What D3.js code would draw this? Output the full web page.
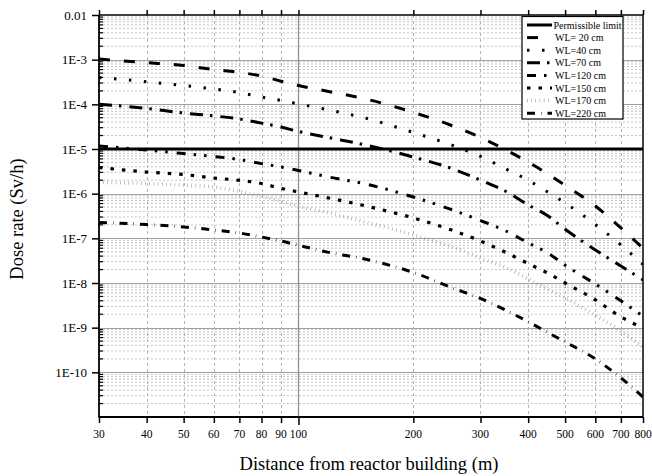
<!DOCTYPE html>
<html>
<head>
<meta charset="utf-8">
<script src="https://cdn.jsdelivr.net/npm/d3@7"></script>
<style>
  html, body { margin: 0; padding: 0; background: #fff; }
  svg { display: block; }
  text { font-family: "Liberation Serif", "Times New Roman", serif; fill: #000; }
</style>
</head>
<body>
<svg id="chart" width="652" height="476"></svg>
<script>
// ---------------- data ----------------
const distances = [30, 40, 50, 60, 70, 80, 90, 100, 120, 150, 200, 250, 300, 350, 400, 450, 500, 600, 700, 800];
const wl20  = [1.03e-3, 8.6e-4, 7.4e-4, 6.0e-4, 5.2e-4, 4.3e-4, 3.3e-4, 2.64e-4, 1.94e-4, 1.32e-4, 6.6e-5, 3.45e-5, 1.81e-5, 9.5e-6, 5.1e-6, 2.77e-6, 1.53e-6, 5.3e-7, 1.71e-7, 6.0e-8];
const wl40  = [4.0e-4, 3.2e-4, 2.64e-4, 2.2e-4, 1.84e-4, 1.46e-4, 1.22e-4, 1.02e-4, 7.5e-5, 4.9e-5, 2.34e-5, 1.26e-5, 6.8e-6, 3.56e-6, 2.0e-6, 1.09e-6, 6.2e-7, 2.04e-7, 7.1e-8, 2.6e-8];
const wl70  = [1.0e-4, 8.1e-5, 6.4e-5, 5.5e-5, 4.7e-5, 3.8e-5, 3.1e-5, 2.47e-5, 1.8e-5, 1.23e-5, 6.6e-6, 3.76e-6, 2.0e-6, 1.12e-6, 5.6e-7, 3.2e-7, 1.6e-7, 5.5e-8, 2.4e-8, 1.17e-8];
const wl120 = [1.17e-5, 9.5e-6, 7.9e-6, 6.8e-6, 5.8e-6, 4.7e-6, 3.96e-6, 3.3e-6, 2.36e-6, 1.65e-6, 8.4e-7, 4.5e-7, 2.5e-7, 1.46e-7, 7.9e-8, 4.7e-8, 2.5e-8, 9.5e-9, 4.0e-9, 1.8e-9];
const wl150 = [3.86e-6, 3.05e-6, 2.69e-6, 2.24e-6, 1.99e-6, 1.69e-6, 1.31e-6, 1.09e-6, 8.0e-7, 5.3e-7, 2.86e-7, 1.57e-7, 8.7e-8, 4.8e-8, 2.72e-8, 1.66e-8, 1.0e-8, 4.2e-9, 1.74e-9, 9.8e-10];
const wl170 = [1.78e-6, 1.69e-6, 1.56e-6, 1.41e-6, 1.12e-6, 8.9e-7, 6.7e-7, 5.2e-7, 3.7e-7, 2.3e-7, 1.19e-7, 6.7e-8, 3.6e-8, 2.2e-8, 1.23e-8, 7.3e-9, 4.6e-9, 1.9e-9, 8.4e-10, 3.7e-10];
const wl220 = [2.26e-7, 2.04e-7, 1.8e-7, 1.54e-7, 1.32e-7, 1.07e-7, 8.7e-8, 7.0e-8, 4.85e-8, 3.4e-8, 1.72e-8, 8.1e-9, 4.5e-9, 2.44e-9, 1.36e-9, 7.8e-10, 4.8e-10, 2.0e-10, 7.5e-11, 2.8e-11];
const permissibleLimit = 1e-5;

const seriesNames = ["WL= 20 cm", "WL=40 cm", "WL=70 cm", "WL=120 cm", "WL=150 cm", "WL=170 cm", "WL=220 cm"];
const seriesValues = [wl20, wl40, wl70, wl120, wl150, wl170, wl220];
const limitName = "Permissible limit";

const xTickValues = [30, 40, 50, 60, 70, 80, 90, 100, 200, 300, 400, 500, 600, 700, 800];
const yTickValues = [1e-2, 1e-3, 1e-4, 1e-5, 1e-6, 1e-7, 1e-8, 1e-9, 1e-10];
const yTickLabels = ["0.01", "1E-3", "1E-4", "1E-5", "1E-6", "1E-7", "1E-8", "1E-9", "1E-10"];
const xTitle = "Distance from reactor building (m)";
const yTitle = "Dose rate (Sv/h)";

// ---------------- styles ----------------
const styles = [
  { w: 3,   dash: "11,14",               color: "#000" },
  { w: 3,   dash: "2.5,12.5",            color: "#000" },
  { w: 3,   dash: "13,7,2.5,8",          color: "#000" },
  { w: 3,   dash: "9,8,2.5,8,2.5,9",     color: "#000" },
  { w: 3.2, dash: "3.5,8",               color: "#000" },
  { w: 3.5, dash: "0.6,3.6",             color: "#999" },
  { w: 3,   dash: "8,6,0.5,6",           color: "#000" }
];

// ---------------- layout ----------------
const L = 99, R = 643, T = 15, B = 417;
const svg = d3.select("#chart");
const x = d3.scaleLog().domain([30, 800]).range([L, R]);
const y = d3.scaleLog().domain([1e-11, 1e-2]).range([B, T]);

// grid: minor horizontal
const minorY = [];
for (let e = -11; e < -2; e++) for (let m = 2; m <= 9; m++) minorY.push(m * Math.pow(10, e));
const grid = svg.append("g");
grid.selectAll("line.minor").data(minorY).enter().append("line")
  .attr("x1", L).attr("x2", R)
  .attr("y1", d => y(d)).attr("y2", d => y(d))
  .attr("stroke", "#c4c4c4").attr("stroke-width", 1).attr("stroke-dasharray", "2,2");
// major horizontal
grid.selectAll("line.major").data([1e-3,1e-4,1e-5,1e-6,1e-7,1e-8,1e-9,1e-10]).enter().append("line")
  .attr("x1", L).attr("x2", R)
  .attr("y1", d => Math.round(y(d)) + 0.5).attr("y2", d => Math.round(y(d)) + 0.5)
  .attr("stroke", "#a0a0a0").attr("stroke-width", 1.2);
// vertical
grid.selectAll("line.vx").data(xTickValues.filter(d => d !== 30 && d !== 800)).enter().append("line")
  .attr("x1", d => Math.round(x(d)) + 0.5).attr("x2", d => Math.round(x(d)) + 0.5)
  .attr("y1", T).attr("y2", B)
  .attr("stroke", d => d === 100 ? "#909090" : "#b4b4b4")
  .attr("stroke-width", d => d === 100 ? 1.3 : 1)
  .attr("stroke-dasharray", d => d === 100 ? null : "3,3");

// clip
svg.append("clipPath").attr("id", "clip").append("rect")
  .attr("x", L).attr("y", T).attr("width", R - L).attr("height", B - T);

const line = d3.line()
  .x(d => x(d[0])).y(d => y(d[1]))
  .curve(d3.curveMonotoneX);

const plot = svg.append("g").attr("clip-path", "url(#clip)");
seriesValues.forEach((vals, i) => {
  const pts = distances.map((d, j) => [d, vals[j]]);
  plot.append("path")
    .attr("d", line(pts))
    .attr("fill", "none")
    .attr("stroke", styles[i].color)
    .attr("stroke-width", styles[i].w)
    .attr("stroke-dasharray", styles[i].dash);
});
// permissible limit
plot.append("line")
  .attr("x1", L).attr("x2", R)
  .attr("y1", y(permissibleLimit)).attr("y2", y(permissibleLimit))
  .attr("stroke", "#000").attr("stroke-width", 3);

// ---------------- axes ----------------
const ax = svg.append("g");
// bottom axis
const xAxis = d3.axisBottom(x).tickValues(xTickValues).tickSize(6).tickFormat("");
const gx = ax.append("g").attr("transform", `translate(0,${B})`).call(xAxis);
gx.select(".domain").remove();
gx.selectAll(".tick line").attr("stroke", "#000").attr("stroke-width", 1.5)
  .attr("y2", d => d === 100 ? 8 : 6);
// x labels
const xl = ax.append("g");
xTickValues.forEach(v => {
  xl.append("text").attr("x", x(v)).attr("y", 438)
    .attr("text-anchor", "middle").attr("font-size", "11.5px").text(String(v));
});

// top axis ticks (outward)
const gt = ax.append("g").attr("transform", `translate(0,${T})`)
  .call(d3.axisTop(x).tickValues(xTickValues).tickSize(5).tickFormat(""));
gt.select(".domain").remove();
gt.selectAll(".tick line").attr("stroke", "#000").attr("stroke-width", 1.5);

// left axis: major outward
const gy = ax.append("g").attr("transform", `translate(${L},0)`)
  .call(d3.axisLeft(y).tickValues(yTickValues).tickSize(7).tickFormat((d, i) => yTickLabels[i]).tickPadding(5));
gy.select(".domain").remove();
gy.selectAll(".tick line").attr("stroke", "#000").attr("stroke-width", 1.5);
gy.selectAll(".tick text").attr("font-size", "13px")
  .attr("font-family", "Liberation Serif, Times New Roman, serif").attr("fill", "#000");
// left axis: minor inward
ax.append("g").selectAll("line").data(minorY).enter().append("line")
  .attr("x1", L).attr("x2", L + 4)
  .attr("y1", d => y(d)).attr("y2", d => y(d))
  .attr("stroke", "#000").attr("stroke-width", 1.2);

// frame
ax.append("line").attr("x1", L).attr("x2", L).attr("y1", T).attr("y2", B + 0.75).attr("stroke", "#000").attr("stroke-width", 1.8);
ax.append("line").attr("x1", L).attr("x2", R).attr("y1", B).attr("y2", B).attr("stroke", "#000").attr("stroke-width", 1.8);
ax.append("line").attr("x1", L).attr("x2", R).attr("y1", T).attr("y2", T).attr("stroke", "#000").attr("stroke-width", 1.5);
ax.append("line").attr("x1", R).attr("x2", R).attr("y1", T).attr("y2", B).attr("stroke", "#000").attr("stroke-width", 1.5);

// titles
svg.append("text").attr("x", 369).attr("y", 470).attr("text-anchor", "middle")
  .attr("font-size", "18.5px").text(xTitle);
svg.append("text").attr("transform", "translate(23,219) rotate(-90)").attr("text-anchor", "middle")
  .attr("font-size", "18.5px").text(yTitle);

// ---------------- legend ----------------
const lg = svg.append("g");
lg.append("rect").attr("x", 522).attr("y", 16.5).attr("width", 101).attr("height", 102.5)
  .attr("fill", "#fff").attr("stroke", "#000").attr("stroke-width", 1.2);
const rowY = i => 25 + i * 12.6;
lg.append("line").attr("x1", 527).attr("x2", 552).attr("y1", rowY(0)).attr("y2", rowY(0))
  .attr("stroke", "#000").attr("stroke-width", 3);
lg.append("text").attr("x", 553.5).attr("y", rowY(0) + 3.5).attr("font-size", "10px").text(limitName);
seriesNames.forEach((n, i) => {
  lg.append("line").attr("x1", 527).attr("x2", 552).attr("y1", rowY(i + 1)).attr("y2", rowY(i + 1))
    .attr("stroke", styles[i].color).attr("stroke-width", styles[i].w)
    .attr("stroke-dasharray", styles[i].dash);
  lg.append("text").attr("x", 555).attr("y", rowY(i + 1) + 3.5).attr("font-size", "10px").text(n);
});
</script>
</body>
</html>
